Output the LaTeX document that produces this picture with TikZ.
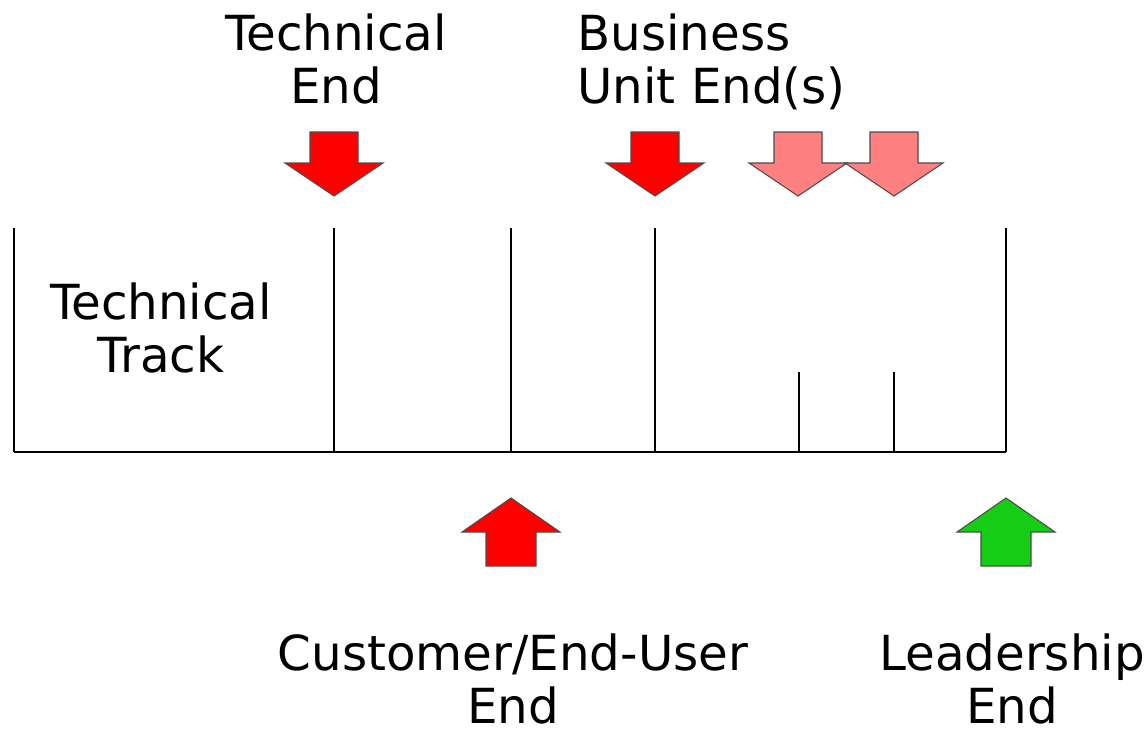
\documentclass[tikz,border=0pt]{standalone}
\usepackage{fontspec}
\setmainfont{DejaVu Sans}
\usepackage{tikz}
\usetikzlibrary{positioning}
\definecolor{endred}{RGB}{255,0,0}
\definecolor{endpink}{RGB}{255,128,128}
\definecolor{endgreen}{RGB}{20,205,20}

\begin{document}
\begin{tikzpicture}[
  x=0.02cm, y=-0.02cm,
  every node/.style={font=\fontsize{27.5}{30}\selectfont, inner sep=0pt},
  label/.style={align=center, anchor=base},
  track/.style={line width=0.8pt, black},
  blockarrow/.style={draw=black!70, line width=0.6pt, line join=miter},
  pics/downarr/.style={code={
    \filldraw[blockarrow, fill=#1] (0,0) -- (-49,-33) -- (-24,-33) -- (-24,-64)
      -- (24,-64) -- (24,-33) -- (49,-33) -- cycle;}},
  pics/uparr/.style={code={
    \filldraw[blockarrow, fill=#1] (0,0) -- (-49,34) -- (-25,34) -- (-25,68)
      -- (25,68) -- (25,34) -- (49,34) -- cycle;}}
]
  \useasboundingbox (0,0) rectangle (1148,731);

  % the track
  \coordinate (start)  at (14,452);
  \coordinate (finish) at (1006,452);
  \draw[track] (start) -- (finish);
  \foreach \px in {14,334,511,655,1006}
    \draw[track] (\px,228) -- (\px,452);
  \foreach \px in {799,894}
    \draw[track] (\px,372) -- (\px,452);

  \node[label] (track) at (161,372) {Technical\\Track};

  % ends from above
  \pic at (334,196) {downarr=endred};
  \pic at (655,196) {downarr=endred};
  \pic at (798,196) {downarr=endpink};
  \pic at (894,196) {downarr=endpink};
  \node[label] (techend) at (336,103) {Technical\\End};
  \node[align=left, anchor=base west] (busend) at (577,103) {Business\\Unit End(s)};

  % ends from below
  \pic at (511,498) {uparr=endred};
  \pic at (1006,498) {uparr=endgreen};
  \node[label] (custend) at (513,723) {Customer/End-User\\End};
  \node[label] (leadend) at (1012,723) {Leadership\\End};
\end{tikzpicture}
\end{document}
